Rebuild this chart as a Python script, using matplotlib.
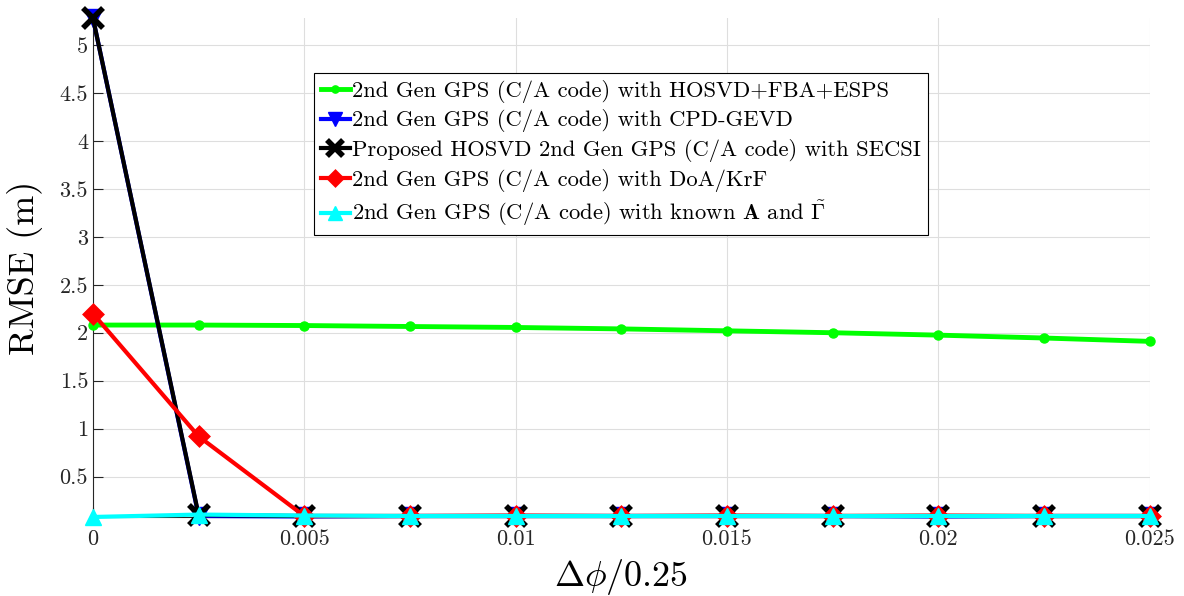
import matplotlib
matplotlib.use('Agg')
import matplotlib.pyplot as plt
import numpy as np

plt.rcParams['font.family'] = 'serif'
plt.rcParams['font.serif'] = ['cmr10']
plt.rcParams['mathtext.fontset'] = 'cm'
plt.rcParams['axes.formatter.use_mathtext'] = True

# data
dphi = [0, 0.0025, 0.005, 0.0075, 0.01, 0.0125, 0.015, 0.0175, 0.02, 0.0225, 0.025]
rmse_hosvd_fba = [2.08, 2.08, 2.075, 2.065, 2.055, 2.04, 2.02, 2.0, 1.975, 1.945, 1.91]
rmse_cpd_gevd = [5.28, 0.09, 0.085, 0.09, 0.09, 0.09, 0.09, 0.09, 0.085, 0.09, 0.09]
rmse_secsi = [5.28, 0.10, 0.09, 0.09, 0.09, 0.09, 0.09, 0.09, 0.09, 0.09, 0.09]
rmse_doa_krf = [2.2, 0.92, 0.09, 0.09, 0.095, 0.09, 0.095, 0.09, 0.095, 0.09, 0.09]
rmse_known = [0.08, 0.105, 0.095, 0.09, 0.09, 0.09, 0.09, 0.09, 0.09, 0.09, 0.09]

labels = [
    '2nd Gen GPS (C/A code) with HOSVD+FBA+ESPS',
    '2nd Gen GPS (C/A code) with CPD-GEVD',
    'Proposed HOSVD 2nd Gen GPS (C/A code) with SECSI',
    '2nd Gen GPS (C/A code) with DoA/KrF',
    r'2nd Gen GPS (C/A code) with known $\mathbf{A}$ and $\tilde{\boldsymbol{\Gamma}}$',
]
xticks = [0, 0.005, 0.01, 0.015, 0.02, 0.025]
xticklabels = ['0', '0.005', '0.01', '0.015', '0.02', '0.025']
yticks = [0.5, 1, 1.5, 2, 2.5, 3, 3.5, 4, 4.5, 5]
yticklabels = ['0.5', '1', '1.5', '2', '2.5', '3', '3.5', '4', '4.5', '5']

fig = plt.figure(figsize=(11.84, 5.96), dpi=100)
ax = fig.add_axes([0.0785, 0.1326, 0.8925, 0.8372])

ax.plot(dphi, rmse_hosvd_fba, color=(0, 1, 0), lw=3.5, marker='o', ms=6.5,
        label=labels[0], clip_on=False, zorder=3)
ax.plot(dphi, rmse_cpd_gevd, color='blue', lw=3, marker='v', ms=13,
        label=labels[1], clip_on=False, zorder=4)
ax.plot(dphi, rmse_secsi, color='black', lw=3, marker='x', ms=14, mew=4,
        label=labels[2], clip_on=False, zorder=5)
ax.plot(dphi, rmse_doa_krf, color='red', lw=3, marker='D', ms=9, mew=2.5,
        mfc='red', label=labels[3], clip_on=False, zorder=6)
ax.plot(dphi, rmse_known, color='cyan', lw=3, marker='^', ms=12,
        label=labels[4], clip_on=False, zorder=7)

ymin = min(rmse_known)
ymax = max(rmse_secsi)
ax.set_xlim(0, 0.025)
ax.set_ylim(ymin, ymax)

ax.set_xticks(xticks, xticklabels)
ax.set_yticks(yticks, yticklabels)
ax.tick_params(direction='in', length=7, width=0.8, labelsize=16, colors='#262626')
ax.tick_params(axis='x', pad=9)
ax.grid(True, color='#dedede', lw=0.8)
ax.set_axisbelow(True)
for s in ['top', 'right']:
    ax.spines[s].set_visible(False)
for s in ['left', 'bottom']:
    ax.spines[s].set_color('#262626')

ax.set_xlabel(r'$\Delta\phi/0.25$', fontsize=26, labelpad=6)
ax.set_ylabel('RMSE (m)', fontsize=26, labelpad=12)

leg = ax.legend(loc='upper left', bbox_to_anchor=(0.209, 0.89), fontsize=16.3,
                frameon=True, fancybox=False, framealpha=1, edgecolor='black',
                handlelength=1.3, handletextpad=0.1, borderpad=0.3,
                labelspacing=0.3, borderaxespad=0, markerscale=0.8)
leg.get_frame().set_linewidth(0.8)

fig.savefig('out.png', dpi=100)
